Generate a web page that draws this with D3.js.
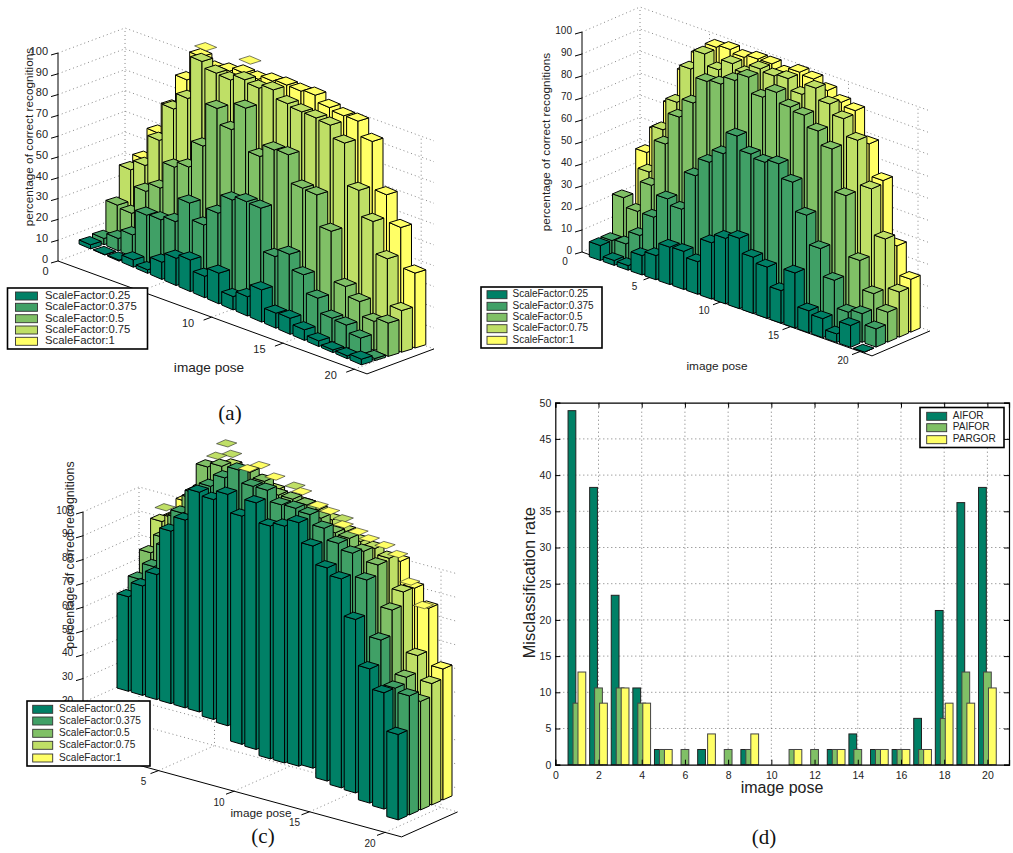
<!DOCTYPE html>
<html>
<head>
<meta charset="utf-8">
<script src="https://cdn.jsdelivr.net/npm/d3@7"></script>
<style>
	body { margin: 0; background: #fff; }
	text { font-family: "Liberation Sans", sans-serif; fill: #222; }
	.caption { font-family: "Liberation Serif", serif; font-size: 21px; fill: #111; }
</style>
</head>
<body>
<div id="container"></div>
<script>
"use strict";

// series names + colors (matlab "summer" colormap)
const scaleNames = ["ScaleFactor:0.25", "ScaleFactor:0.375", "ScaleFactor:0.5", "ScaleFactor:0.75", "ScaleFactor:1"];
const summer = ["#008066", "#40a066", "#80c066", "#bfdf66", "#ffff66"];
const poses = d3.range(1, 21);
const zTicks = d3.range(0, 101, 10);
const poseTicks = [0, 5, 10, 15, 20];

// panel a
const a025 = [2, 0.2, 0.5, 3.5, 1.7, 8.3, 13.1, 15.2, 10.3, 14.7, 6.4, 9.3, 15.5, 7.2, 7.7, 5.1, 2.7, 1.3, 1.4, 2.7];
const a0375 = [3, 5.9, 10.6, 23, 23.7, 25.8, 37.6, 30, 38.6, 47.9, 50, 49.8, 29.5, 33.5, 26.6, 18.3, 11.6, 11.2, 7.9, 1];
const a05 = [17, 16, 29.5, 34, 47, 50, 63, 84, 76.8, 90, 69.7, 75.8, 76.4, 63.3, 63, 48.4, 24.8, 20.5, 13.9, 16];
const a075 = [32, 37, 52, 70, 78, 98.7, 96, 95.7, 98.7, 97.6, 99.7, 96, 95, 95, 94.5, 88.8, 69, 57, 42, 20];
const a1 = [35, 50.5, 65.5, 82, 96, 93, 95, 97, 97, 99, 100, 100, 101, 98, 97, 97.3, 90.5, 67.8, 55, 36];
// lids that came loose from their bars: series index, pose, value
const aLooseSeries = [4, 4];
const aLoosePose = [5.34, 8.45];
const aLooseValue = [99.9, 102.6];

// panel b
const b025 = [6.8, 2.2, 2.1, 8.8, 11, 17, 17.3, 14.8, 25.6, 29.8, 32, 25.6, 23.3, 14.8, 25, 10, 8.6, 3.9, 9.9, 0];
const b0375 = [6.8, 7.5, 13.5, 24, 34.5, 32, 49.4, 57.7, 63.8, 74, 68, 66.5, 68, 61.8, 49, 36, 23.8, 11.5, 13, 8.3];
const b05 = [24, 20, 34, 55, 69.4, 78, 90, 91, 94.8, 98.5, 91.6, 96, 91.5, 90, 85, 79, 60, 32.7, 19.8, 13.6];
const b075 = [15, 35.6, 57, 71.7, 89, 98, 93, 98, 95.6, 100, 99, 100, 95, 100, 95, 90.5, 82.9, 63, 42.4, 20.5];
const b1 = [40, 52, 66, 83, 93, 98.8, 100, 98.6, 100, 100, 98, 100.6, 99.7, 96.7, 93.5, 91.9, 79, 64.5, 37, 24];

// panel c
const c025 = [39.7, 46, 52.5, 72.5, 78.9, 92.3, 91, 94.9, 87.5, 94.8, 86.8, 88.5, 91.7, 83.6, 76.2, 73.3, 58, 39, 30.7, 14.9];
const c0375 = [45, 52, 62, 78, 88, 92.7, 98, 103, 97.9, 98, 93.6, 93.9, 93, 89, 84.4, 82, 72.5, 49, 30.5, 29];
const c05 = [54, 62, 72, 82, 97, 99, 96, 100, 97.9, 93.9, 93.9, 93.2, 89.4, 85, 84.4, 80.7, 76.7, 59.5, 33, 24.6];
const c075 = [65, 68, 72, 84, 92, 97, 95, 94, 92, 89.7, 89.8, 89, 86.6, 83.5, 81, 79.8, 77.4, 65, 40, 30];
const c1 = [64, 73, 74, 86, 86, 85, 85, 83, 82, 80, 76, 75, 72, 72, 70, 70, 74, 64.5, 57.8, 34];
// the bars in c hang below their floor, more so towards pose 20
const cBase = [0, 0, 0, 0, 0, 0, -1.4, -2.3, -8.4, -8.8, -11, -11, -10.6, -9.7, -13.4, -14.5, -14.9, -17.4, -18.2, -21];
const cLooseSeries = [3, 3, 3, 3, 3, 3, 4, 4, 4, 4, 4, 4, 4, 4, 4, 4, 4, 4, 4];
const cLoosePose = [5.64, 5.99, 4.94, 1.3, 10.45, 13.85, 7.2, 6.37, 8.25, 10.13, 11.3, 12.1, 13.06, 14.1, 14.9, 16, 16.9, 17.75, 18.7];
const cLooseValue = [104.4, 100.6, 98, 70, 95, 87.2, 95.9, 93.1, 92.9, 90, 86.3, 85.2, 81.2, 80, 78.5, 77.6, 75.4, 65.3, 57.1];

// panel d
const methodNames = ["AIFOR", "PAIFOR", "PARGOR"];
const methodColors = ["#008066", "#80c066", "#ffff66"];
const aifor = [48.9, 38.3, 23.4, 10.6, 2.1, 0, 2.1, 0, 2.1, 0, 0, 0, 2.1, 4.25, 2.1, 2.1, 6.4, 21.3, 36.2, 38.3];
const paifor = [8.5, 10.6, 10.6, 8.5, 2.1, 2.1, 0, 2.1, 2.1, 0, 2.1, 2.1, 2.1, 2.1, 2.1, 2.1, 2.1, 6.4, 12.8, 12.8];
const pargor = [12.8, 8.5, 10.6, 8.5, 2.1, 0, 4.25, 0, 4.25, 0, 2.1, 0, 2.1, 0, 2.1, 2.1, 2.1, 8.5, 8.5, 10.6];

const svg = d3
	.select("#container")
	.append("svg")
	.attr("width", 1013)
	.attr("height", 853)
	.style("display", "block");

// a projection: pose, depth (0-5) and value to page position
function makeProjection(x0, y0, stepX, stepY, depthX, depthY, zPerPct) {
	const px = d3.scaleLinear().domain([0, 20]).range([x0, x0 + 20 * stepX]);
	const py = d3.scaleLinear().domain([0, 20]).range([y0, y0 + 20 * stepY]);
	const dx = d3.scaleLinear().domain([0, 5]).range([0, 5 * depthX]);
	const dy = d3.scaleLinear().domain([0, 5]).range([0, 5 * depthY]);
	const z = d3.scaleLinear().domain([0, 100]).range([0, -100 * zPerPct]);
	return (pose, depth, value) => [px(pose) + dx(depth), py(pose) + dy(depth) + z(value)];
}

function pts(list) {
	return list.map((p) => p[0].toFixed(1) + "," + p[1].toFixed(1)).join(" ");
}

function draw3d(cfg) {
	const g = svg.append("g");
	const ax = cfg.axis;
	const bp = cfg.bars;
	const [p0, p1] = cfg.poseExtent;

	// grid on walls + floor
	const grid = g.append("g").attr("fill", "none").attr("stroke", "#555").attr("stroke-width", 0.7).attr("stroke-dasharray", "1 3");
	zTicks.forEach((t) => {
		grid.append("polyline").attr("points", pts([ax(p0, 0, t), ax(p0, 5, t), ax(p1, 5, t)]));
	});
	grid.append("line")
		.attr("x1", ax(p0, 5, 0)[0]).attr("y1", ax(p0, 5, 0)[1])
		.attr("x2", ax(p0, 5, 100)[0]).attr("y2", ax(p0, 5, 100)[1]);
	poseTicks.slice(1).forEach((t) => {
		grid.append("polyline").attr("points", pts([ax(t, 0, 0), ax(t, 5, 0), ax(t, 5, 100)]));
	});

	// solid axes
	const solid = g.append("g").attr("fill", "none").attr("stroke", "#000").attr("stroke-width", 1);
	solid.append("polyline").attr("points", pts([ax(p0, 0, 100), ax(p0, 0, 0), ax(p1, 0, 0), ax(p1, 5, 0)]));
	zTicks.forEach((t) => {
		const a = ax(p0, 0, t);
		solid.append("line").attr("x1", a[0]).attr("y1", a[1]).attr("x2", a[0] - 7).attr("y2", a[1] + 2);
		g.append("text")
			.attr("x", a[0] - 10)
			.attr("y", a[1] - 1)
			.attr("text-anchor", "end")
			.attr("dominant-baseline", "middle")
			.attr("font-size", cfg.tickFont)
			.text(t);
	});
	poseTicks.forEach((t) => {
		const a = ax(t, 0, 0);
		if (t > 0) solid.append("line").attr("x1", a[0]).attr("y1", a[1]).attr("x2", a[0] - 8).attr("y2", a[1] + 3);
		g.append("text")
			.attr("x", a[0] + cfg.tickOffset[0])
			.attr("y", a[1] + cfg.tickOffset[1])
			.attr("text-anchor", "middle")
			.attr("dominant-baseline", "middle")
			.attr("font-size", cfg.tickFont)
			.text(t);
	});

	// bars, back row first, then low pose to high pose
	const bars = [];
	d3.range(4, -1, -1).forEach((s) => {
		poses.forEach((p, i) => {
			bars.push({ s, p, v: cfg.values[s][i], base: cfg.base ? cfg.base[i] : 0 });
		});
	});
	const w = 0.4;
	const barG = g
		.append("g")
		.attr("stroke", "#000")
		.attr("stroke-width", 1)
		.attr("stroke-linejoin", "round")
		.selectAll("g")
		.data(bars)
		.enter()
		.append("g")
		.attr("fill", (d) => summer[d.s]);
	barG.append("polygon").attr("points", (d) => {
		const dl = d.s + 0.5 - w;
		return pts([bp(d.p - w, dl, d.base), bp(d.p + w, dl, d.base), bp(d.p + w, dl, d.v), bp(d.p - w, dl, d.v)]);
	});
	barG.append("polygon").attr("points", (d) => {
		const dl = d.s + 0.5 - w;
		const dr = d.s + 0.5 + w;
		return pts([bp(d.p + w, dl, d.base), bp(d.p + w, dr, d.base), bp(d.p + w, dr, d.v), bp(d.p + w, dl, d.v)]);
	});
	barG.append("polygon").attr("points", (d) => {
		const dl = d.s + 0.5 - w;
		const dr = d.s + 0.5 + w;
		return pts([bp(d.p - w, dl, d.v), bp(d.p + w, dl, d.v), bp(d.p + w, dr, d.v), bp(d.p - w, dr, d.v)]);
	});

	// loose lids
	const loose = cfg.looseSeries.map((s, i) => ({ s, p: cfg.loosePose[i], v: cfg.looseValue[i] }));
	g.append("g")
		.attr("stroke", "#222")
		.attr("stroke-width", 0.6)
		.selectAll("polygon")
		.data(loose)
		.enter()
		.append("polygon")
		.attr("fill", (d) => summer[d.s])
		.attr("points", (d) => {
			const dl = d.s + 0.5 - w;
			const dr = d.s + 0.5 + w;
			return pts([bp(d.p - w, dl, d.v), bp(d.p + w, dl, d.v), bp(d.p + w, dr, d.v), bp(d.p - w, dr, d.v)]);
		});

	// labels
	g.append("text")
		.attr("transform", `translate(${cfg.zLabel[0]},${cfg.zLabel[1]}) rotate(-90)`)
		.attr("text-anchor", "middle")
		.attr("dominant-baseline", "middle")
		.attr("font-size", cfg.zLabel[2])
		.text("percentage of correct recognitions");
	g.append("text")
		.attr("x", cfg.poseLabel[0])
		.attr("y", cfg.poseLabel[1])
		.attr("text-anchor", "middle")
		.attr("dominant-baseline", "middle")
		.attr("font-size", cfg.poseLabel[2])
		.text("image pose");

	legend(cfg.legend, scaleNames, summer);
}

function legend(l, names, colors) {
	const g = svg.append("g");
	g.append("rect")
		.attr("x", l.x)
		.attr("y", l.y)
		.attr("width", l.w)
		.attr("height", l.h)
		.attr("fill", "#fff")
		.attr("stroke", "#000")
		.attr("stroke-width", 1.6);
	names.forEach((name, i) => {
		g.append("rect")
			.attr("x", l.swatchX)
			.attr("y", l.rows[i] - 4)
			.attr("width", l.swatchW)
			.attr("height", 8)
			.attr("fill", colors[i])
			.attr("stroke", "#333")
			.attr("stroke-width", 0.9);
		g.append("text")
			.attr("x", l.textX)
			.attr("y", l.rows[i])
			.attr("dominant-baseline", "middle")
			.attr("font-size", l.font)
			.text(name);
	});
}

// a
draw3d({
	axis: makeProjection(69, 265, 14.26, 5.21, 13.4, -5, 2.08),
	bars: makeProjection(69.2, 240.8, 14.26, 6.1, 13.4, -4.2, 2.08),
	poseExtent: [-0.77, 20.9],
	values: [a025, a0375, a05, a075, a1],
	looseSeries: aLooseSeries,
	loosePose: aLoosePose,
	looseValue: aLooseValue,
	tickFont: 11,
	tickOffset: [-23.5, 7],
	zLabel: [30, 137, 11.8],
	poseLabel: [209, 368, 13.6],
	legend: { x: 7.5, y: 288, w: 140, h: 61, swatchX: 15.5, swatchW: 22, textX: 45, font: 11.3, rows: [296, 307.3, 318.7, 330, 341.3] },
});

// b
draw3d({
	axis: makeProjection(582, 252, 13.9, 4.98, 11.6, -5, 2.2),
	bars: makeProjection(579.8, 254.3, 13.9, 4.82, 11.6, -5, 2.2),
	poseExtent: [0, 20.86],
	values: [b025, b0375, b05, b075, b1],
	looseSeries: [],
	loosePose: [],
	looseValue: [],
	tickFont: 10,
	tickOffset: [-17, 10],
	zLabel: [547, 142, 11.8],
	poseLabel: [717, 367, 11.8],
	legend: { x: 481, y: 287, w: 121, h: 61, swatchX: 487, swatchW: 20, textX: 512.5, font: 10, rows: [294.7, 306.3, 317.3, 328.7, 340.3] },
});

// c
draw3d({
	axis: makeProjection(83, 750, 15.1, 4.12, 11.2, -5, 2.38),
	bars: makeProjection(107.4, 686, 14.2, 4.14, 11.2, -5, 2.38),
	poseExtent: [0, 21.1],
	values: [c025, c0375, c05, c075, c1],
	base: cBase,
	looseSeries: cLooseSeries,
	loosePose: cLoosePose,
	looseValue: cLooseValue,
	tickFont: 10,
	tickOffset: [-15, 12],
	zLabel: [70.7, 555, 12.4],
	poseLabel: [261, 814, 11.8],
	legend: { x: 27, y: 701, w: 123, h: 65, swatchX: 32.7, swatchW: 20, textX: 59, font: 10.1, rows: [709.3, 721, 733.3, 745.3, 758] },
});

// d, plain grouped bars
const dX = d3.scaleLinear().domain([0, 21]).range([555.3, 1009]);
const dY = d3.scaleLinear().domain([0, 50]).range([764.7, 402.7]);
const dSeries = [aifor, paifor, pargor];
const barWidth = 0.36;
const barOffset = d3.scaleLinear().domain([0, 2]).range([-0.23, 0.23]);
const gd = svg.append("g");

// grid
gd.append("g")
	.selectAll("line")
	.data(d3.range(2, 21, 2))
	.enter()
	.append("line")
	.attr("x1", (d) => dX(d))
	.attr("x2", (d) => dX(d))
	.attr("y1", dY(0))
	.attr("y2", dY(50))
	.attr("stroke", "#555")
	.attr("stroke-width", 0.8)
	.attr("stroke-dasharray", "1 3");
gd.append("g")
	.selectAll("line")
	.data(d3.range(5, 50, 5))
	.enter()
	.append("line")
	.attr("x1", dX(0))
	.attr("x2", dX(21))
	.attr("y1", (d) => dY(d))
	.attr("y2", (d) => dY(d))
	.attr("stroke", "#555")
	.attr("stroke-width", 0.8)
	.attr("stroke-dasharray", "1 3");

dSeries.forEach((vals, s) => {
	gd.append("g")
		.selectAll("rect")
		.data(vals)
		.enter()
		.append("rect")
		.attr("x", (d, i) => dX(i + 1 + barOffset(s) - barWidth / 2))
		.attr("width", dX(barWidth) - dX(0))
		.attr("y", (d) => dY(d))
		.attr("height", (d) => dY(0) - dY(d))
		.attr("display", (d) => (d > 0 ? null : "none"))
		.attr("fill", methodColors[s])
		.attr("stroke", s === 0 ? "#222" : "#444")
		.attr("stroke-width", 1);
});

// box + ticks
const axisG = gd.append("g").attr("font-size", 10.5);
const xAxis = d3.axisBottom(dX).tickValues(d3.range(0, 21, 2)).tickSize(-5).tickPadding(7);
const yAxis = d3.axisLeft(dY).tickValues(d3.range(0, 51, 5)).tickSize(-5).tickPadding(4);
axisG.append("g").attr("transform", `translate(0,${dY(0)})`).call(xAxis);
axisG.append("g").attr("transform", `translate(${dX(0)},0)`).call(yAxis);
axisG.append("g").attr("transform", `translate(0,${dY(50)})`).call(d3.axisTop(dX).tickValues(d3.range(0, 21, 2)).tickSize(-5).tickFormat(""));
axisG.append("g").attr("transform", `translate(${dX(21)},0)`).call(d3.axisRight(dY).tickValues(d3.range(0, 51, 5)).tickSize(-5).tickFormat(""));
axisG.selectAll("text").attr("font-family", null).attr("font-size", 10.5);
axisG.selectAll(".domain").attr("stroke-width", 1.2);
axisG.selectAll(".tick line").attr("stroke-width", 1);

gd.append("text")
	.attr("x", 782)
	.attr("y", 789)
	.attr("text-anchor", "middle")
	.attr("dominant-baseline", "middle")
	.attr("font-size", 16)
	.text("image pose");
gd.append("text")
	.attr("transform", "translate(531,582.7) rotate(-90)")
	.attr("text-anchor", "middle")
	.attr("dominant-baseline", "middle")
	.attr("font-size", 16.4)
	.text("Misclassification rate");

legend(
	{ x: 920, y: 407.5, w: 84, h: 40, swatchX: 926.7, swatchW: 20, textX: 952.7, font: 10.1, rows: [416.3, 427.7, 439.7] },
	methodNames,
	methodColors
);

// captions
const captions = [["(a)", 230, 420], ["(c)", 263, 843], ["(d)", 764, 844]];
svg.selectAll(".caption")
	.data(captions)
	.enter()
	.append("text")
	.attr("class", "caption")
	.attr("x", (d) => d[1])
	.attr("y", (d) => d[2])
	.attr("text-anchor", "middle")
	.text((d) => d[0]);
</script>
</body>
</html>
